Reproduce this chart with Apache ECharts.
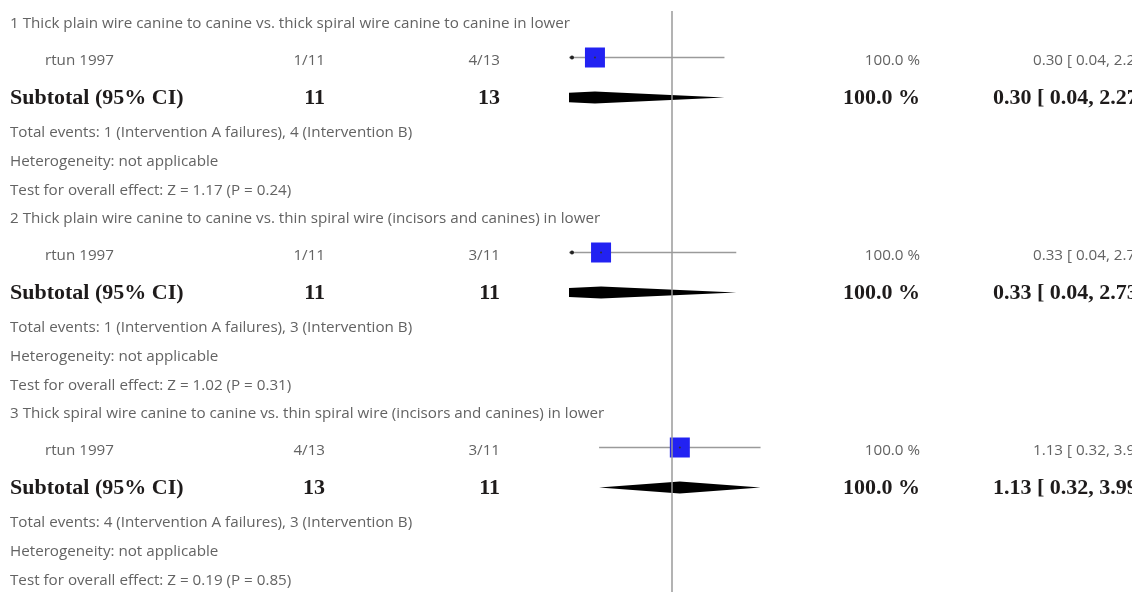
<!DOCTYPE html>
<html>
<head>
<meta charset="utf-8">
<script src="https://cdn.jsdelivr.net/npm/echarts@6/dist/echarts.min.js"></script>
<style>
html, body {margin: 0; padding: 0; background: #fff;}
#main {width: 1132px; height: 592px;}
</style>
</head>
<body>
<div id="main"></div>
<script>
// forest plot, three comparisons, risk ratio on log scale
const headers = [
    '1 Thick plain wire canine to canine vs. thick spiral wire canine to canine in lower',
    '2 Thick plain wire canine to canine vs. thin spiral wire (incisors and canines) in lower',
    '3 Thick spiral wire canine to canine vs. thin spiral wire (incisors and canines) in lower'
];
const studies = ['rtun 1997', 'rtun 1997', 'rtun 1997'];
const eventsA = ['1/11', '1/11', '4/13'];
const eventsB = ['4/13', '3/11', '3/11'];
const totalA = [11, 11, 13];
const totalB = [13, 11, 11];
const weights = [100.0, 100.0, 100.0];
const rr = [0.30, 0.33, 1.13];
const ciLow = [0.04, 0.04, 0.32];
const ciHigh = [2.27, 2.73, 3.99];
const totEventsA = [1, 1, 4];
const totEventsB = [4, 3, 3];
const zValues = ['1.17', '1.02', '0.19'];
const pValues = ['0.24', '0.31', '0.85'];

// layout
const X_MIN = 0.2, X_MAX = 5;
const BLOCK = 195;
const TOP = 22;
const rowY = (i, off) => TOP + i * BLOCK + off;
const OFF = {header: 0, study: 35.5, sub: 75.5, events: 109, het: 138, test: 167};

const smallFont = '15.2px "Open Sans"';
const boldFont = 'bold 22px "Liberation Serif"';
const grey = '#636363';
const dark = '#1e1b1b';

function fmtCI(i){
    return `${rr[i].toFixed(2)} [ ${ciLow[i].toFixed(2)}, ${ciHigh[i].toFixed(2)} ]`;
}

function txt(text, x, y, font, fill, align){
    return {
        type: 'text', x: x, y: y, silent: true,
        style: {text: text, font: font, fill: fill, textAlign: align || 'left', textVerticalAlign: 'middle'}
    };
}

let graphics = [];
for (let i = 0; i < headers.length; i++){
    graphics.push(txt(headers[i], 10, rowY(i, OFF.header) + 1.5, smallFont, grey));
    let ys = rowY(i, OFF.study) + 3;
    graphics.push(txt(studies[i], 45, ys, smallFont, grey));
    graphics.push(txt(eventsA[i], 325, ys, smallFont, grey, 'right'));
    graphics.push(txt(eventsB[i], 500, ys, smallFont, grey, 'right'));
    graphics.push(txt(weights[i].toFixed(1) + ' %', 920, ys, smallFont, grey, 'right'));
    graphics.push(txt(fmtCI(i), 1033, ys, smallFont, grey));
    let yb = rowY(i, OFF.sub) + 1;
    graphics.push(txt('Subtotal (95% CI)', 10, yb, boldFont, dark));
    graphics.push(txt(String(totalA[i]), 325, yb, boldFont, dark, 'right'));
    graphics.push(txt(String(totalB[i]), 500, yb, boldFont, dark, 'right'));
    graphics.push(txt(weights[i].toFixed(1) + ' %', 920, yb, boldFont, dark, 'right'));
    graphics.push(txt(fmtCI(i), 993, yb, boldFont, dark));
    graphics.push(txt(`Total events: ${totEventsA[i]} (Intervention A failures), ${totEventsB[i]} (Intervention B)`,
        10, rowY(i, OFF.events) + 1.5, smallFont, grey));
    graphics.push(txt('Heterogeneity: not applicable', 10, rowY(i, OFF.het) + 1.5, smallFont, grey));
    graphics.push(txt(`Test for overall effect: Z = ${zValues[i]} (P = ${pValues[i]})`,
        10, rowY(i, OFF.test) + 1.5, smallFont, grey));
}

let studyData = rr.map((v, i) => [v, ciLow[i], ciHigh[i], i]);

function renderStudy(params, api){
    let i = api.value(3);
    let y = rowY(i, OFF.study);
    let pLo = api.coord([api.value(1), y]);
    let pHi = api.coord([api.value(2), y]);
    let pEst = api.coord([api.value(0), y]);
    let s = 20;
    let children = [
        {type: 'line', shape: {x1: pLo[0], y1: y, x2: pHi[0], y2: y},
         style: {stroke: '#9a9a9a', lineWidth: 1.5}},
        {type: 'rect', shape: {x: pEst[0] - s / 2, y: y - s / 2, width: s, height: s},
         style: {fill: '#2222f2'}},
        {type: 'circle', shape: {cx: pEst[0], cy: y, r: 1}, style: {fill: '#333'}}
    ];
    if (api.value(1) < X_MIN){
        let pm = api.coord([X_MIN, y]);
        children.push({type: 'circle', shape: {cx: pm[0] + 3, cy: y, r: 2}, style: {fill: '#222'}});
    }
    return {type: 'group', children: children};
}

function renderSub(params, api){
    let i = api.value(3);
    let y = rowY(i, OFF.sub);
    let pLo = api.coord([api.value(1), y]);
    let pHi = api.coord([api.value(2), y]);
    let pEst = api.coord([api.value(0), y]);
    let h = 6;
    return {
        type: 'polygon',
        shape: {points: [[pLo[0], y], [pEst[0], y - h], [pHi[0], y], [pEst[0], y + h]]},
        style: {fill: '#000'}
    };
}

let option = {
    animation: false,
    backgroundColor: '#fff',
    grid: {left: 569, right: 357, top: 11, bottom: 0},
    xAxis: {type: 'log', logBase: 10, min: X_MIN, max: X_MAX, show: false},
    yAxis: {type: 'value', min: 11, max: 592, inverse: true, show: false},
    graphic: graphics,
    series: [
        {
            type: 'custom', name: 'study', clip: true,
            renderItem: renderStudy, data: studyData,
            encode: {x: [0, 1, 2]},
            markLine: {
                silent: true, symbol: 'none', label: {show: false},
                lineStyle: {color: '#9a9a9a', width: 1.5, type: 'solid'},
                data: [{xAxis: 1}]
            },
            z: 3
        },
        {
            type: 'custom', name: 'subtotal', clip: true,
            renderItem: renderSub, data: studyData,
            encode: {x: [0, 1, 2]},
            z: 3
        }
    ]
};

let chart = echarts.init(document.getElementById('main'), null, {renderer: 'canvas'});
chart.setOption(option);
</script>
</body>
</html>
